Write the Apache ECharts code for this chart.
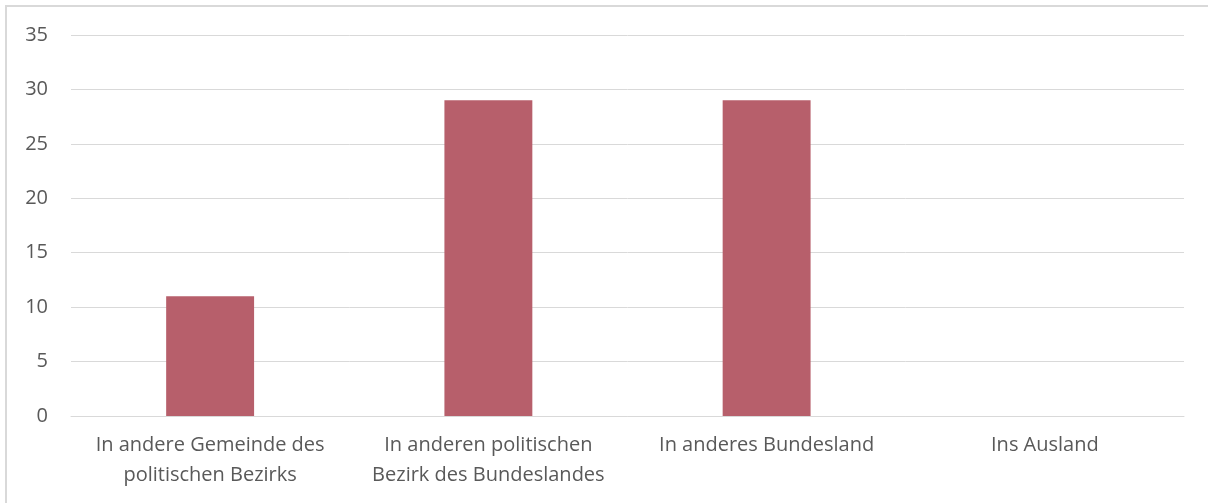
<!DOCTYPE html>
<html>
<head>
<meta charset="utf-8">
<script src="https://cdn.jsdelivr.net/npm/echarts@6/dist/echarts.min.js"></script>
<style>
html,body{margin:0;padding:0;background:#fff;}
#frame{position:absolute;left:5px;top:5px;width:1210px;height:510px;border:2px solid #d9d9d9;box-sizing:border-box;}
#chart{position:absolute;left:0;top:0;width:1208px;height:503px;}
</style>
</head>
<body>
<div id="frame"></div>
<div id="chart"></div>
<script>
const categories = [
  "In andere Gemeinde des\npolitischen Bezirks",
  "In anderen politischen\nBezirk des Bundeslandes",
  "In anderes Bundesland",
  "Ins Ausland"
];
const values = [11, 29, 29, 0];
const yMin = 0, yMax = 35, yStep = 5;

const chart = echarts.init(document.getElementById('chart'), null, {renderer: 'canvas'});
chart.setOption({
  animation: false,
  backgroundColor: 'transparent',
  grid: {left: 71, right: 24, top: 35, bottom: 87, containLabel: false},
  xAxis: {
    type: 'category',
    data: categories,
    axisLine: {show: true, lineStyle: {color: '#d9d9d9', width: 1}},
    axisTick: {show: false},
    axisLabel: {
      color: '#595959', fontFamily: 'Open Sans', fontSize: 20,
      lineHeight: 30, margin: 14, interval: 0
    }
  },
  yAxis: {
    type: 'value',
    min: yMin, max: yMax, interval: yStep,
    axisLine: {show: false},
    axisTick: {show: false},
    splitLine: {show: true, lineStyle: {color: '#d9d9d9', width: 1}},
    axisLabel: {color: '#595959', fontFamily: 'Open Sans', fontSize: 20, margin: 23}
  },
  series: [{
    type: 'bar',
    data: values,
    barWidth: '31.6%',
    itemStyle: {color: '#b75f6b'}
  }]
});
</script>
</body>
</html>
